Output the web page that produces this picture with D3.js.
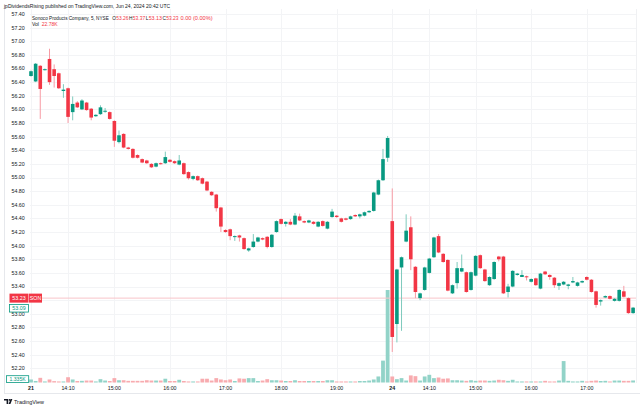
<!DOCTYPE html>
<html><head><meta charset="utf-8">
<script src="https://cdn.jsdelivr.net/npm/d3@7"></script>
<style>body{margin:0;background:#fff}svg{display:block}text{font-family:"Liberation Sans",Arial,sans-serif}</style>
</head><body><svg id="c" width="640" height="409"></svg>
<script>
const opens=[56.49,56.41,56.64,56.58,56.74,56.59,56.53,56.27,56.31,55.96,
56.10,56.00,56.10,56.01,55.90,55.93,55.97,55.96,55.83,55.52,
55.64,55.44,55.42,55.33,55.27,55.25,55.20,55.16,55.21,55.21,
55.26,55.24,55.19,55.21,55.08,54.98,55.02,54.99,54.94,54.79,
54.75,54.56,54.23,54.24,54.13,54.15,54.11,53.93,53.98,54.06,
54.11,54.13,53.98,54.20,54.39,54.32,54.35,54.31,54.43,54.36,
54.34,54.35,54.28,54.36,54.25,54.42,54.44,54.40,54.40,54.39,
54.45,54.43,54.44,54.49,54.51,54.75,54.96,55.29,54.36,52.85,
53.68,54.06,54.27,53.69,53.23,53.35,53.60,53.83,54.14,53.88,
53.79,53.30,53.45,53.62,53.61,53.35,53.56,53.86,53.65,53.42,
53.51,53.84,53.84,53.32,53.40,53.57,53.54,53.55,53.47,53.52,
53.37,53.62,53.57,53.53,53.41,53.43,53.41,53.46,53.41,53.46,
53.54,53.50,53.33,53.18,53.24,53.26,53.19,53.19,53.33,53.23,
53.01];
const highs=[56.57,56.68,56.65,56.60,56.89,56.66,56.54,56.37,56.32,56.19,
56.12,56.15,56.11,56.02,55.93,56.06,56.02,55.97,55.84,55.69,
55.65,55.45,55.43,55.34,55.28,55.26,55.21,55.22,55.22,55.38,
55.27,55.25,55.33,55.22,55.09,55.03,55.03,55.00,54.95,54.80,
54.76,54.57,54.24,54.25,54.15,54.16,54.12,53.97,54.17,54.13,
54.12,54.14,54.17,54.37,54.40,54.36,54.39,54.48,54.47,54.37,
54.38,54.36,54.36,54.37,54.36,54.54,54.45,54.41,54.41,54.44,
54.46,54.47,54.50,54.52,54.79,54.97,55.42,55.61,54.84,53.66,
53.84,54.46,54.43,53.70,53.31,53.69,53.82,54.13,54.17,53.89,
53.80,53.43,53.76,53.87,53.62,53.62,53.86,53.87,53.66,53.55,
53.77,53.85,53.85,53.44,53.64,53.60,53.64,53.56,53.52,53.53,
53.60,53.63,53.58,53.54,53.46,53.48,53.44,53.54,53.47,53.49,
53.55,53.51,53.34,53.21,53.27,53.27,53.23,53.36,53.41,53.24,
53.10];
const lows=[56.48,56.40,55.86,56.57,56.36,56.32,56.30,56.17,55.80,55.84,
56.02,55.99,55.98,55.84,55.89,55.92,55.95,55.85,55.45,55.50,
55.43,55.41,55.28,55.28,55.21,55.20,55.14,55.15,55.19,55.20,
55.22,55.20,55.18,55.04,54.97,54.96,54.95,54.90,54.80,54.73,
54.50,54.20,54.19,54.08,54.07,54.06,53.94,53.91,53.97,54.05,
54.08,53.96,53.97,54.19,54.31,54.28,54.30,54.30,54.36,54.33,
54.33,54.31,54.27,54.28,54.24,54.41,54.41,54.34,54.37,54.38,
54.42,54.40,54.43,54.48,54.50,54.74,54.95,55.23,52.44,52.58,
52.75,54.05,53.64,53.23,53.20,53.34,53.59,53.82,53.89,53.75,
53.33,53.29,53.37,53.61,53.31,53.34,53.55,53.66,53.47,53.41,
53.50,53.77,53.29,53.24,53.39,53.56,53.54,53.49,53.46,53.41,
53.36,53.57,53.50,53.38,53.35,53.42,53.36,53.45,53.40,53.45,
53.49,53.31,53.09,53.12,53.23,53.21,53.18,53.18,53.24,53.00,
53.00];
const closes=[56.56,56.67,56.30,56.59,56.40,56.49,56.31,56.29,55.89,56.08,
56.03,56.13,55.99,55.88,55.92,56.03,55.98,55.86,55.54,55.62,
55.44,55.42,55.29,55.29,55.22,55.21,55.15,55.21,55.20,55.30,
55.23,55.21,55.25,55.05,54.99,55.02,54.96,54.91,54.81,54.74,
54.55,54.28,54.20,54.14,54.14,54.12,53.95,53.96,54.06,54.12,
54.09,53.98,54.16,54.36,54.32,54.35,54.31,54.44,54.37,54.34,
54.37,54.32,54.35,54.29,54.35,54.50,54.42,54.35,54.38,54.43,
54.43,54.46,54.49,54.51,54.78,54.96,55.27,55.58,52.66,53.65,
53.83,54.22,53.80,53.32,53.30,53.68,53.81,54.12,53.90,53.76,
53.34,53.42,53.67,53.67,53.32,53.61,53.85,53.67,53.48,53.54,
53.76,53.80,53.30,53.40,53.63,53.59,53.57,53.54,53.51,53.42,
53.59,53.58,53.54,53.42,53.45,53.47,53.43,53.48,53.46,53.48,
53.50,53.32,53.13,53.20,53.26,53.22,53.22,53.35,53.25,53.01,
53.09];
const volumes=[2.0,1.0,3.1,0.7,2.0,0.9,0.7,0.7,3.5,2.0,
1.0,1.1,1.3,1.3,0.7,2.2,1.3,1.0,2.9,1.5,
1.5,1.1,1.1,1.1,1.1,1.5,1.3,1.3,1.3,2.5,
1.0,1.0,1.8,1.0,0.7,0.7,0.7,2.5,2.5,1.3,
2.9,2.0,1.5,2.0,1.0,2.7,2.5,2.9,2.9,1.0,
1.3,2.2,1.5,1.5,1.3,1.0,1.0,1.5,1.0,1.0,
1.0,1.0,1.0,1.0,1.5,1.5,0.7,0.7,0.7,0.7,
0.7,1.0,1.0,1.3,2.0,4.0,14.5,61.3,4.0,2.2,
2.9,1.3,4.7,4.2,1.3,4.0,5.1,2.9,3.3,2.5,
2.7,1.5,1.5,1.3,1.1,1.5,1.1,1.3,1.3,1.1,
1.3,1.8,1.5,1.1,1.8,0.7,0.7,0.7,0.7,0.7,
0.7,1.1,0.7,0.7,1.3,14.2,1.1,0.7,0.7,1.1,
0.7,1.1,1.3,1.0,1.1,0.7,1.3,1.3,1.1,1.1,
1.335];
const timeTickIdx=[0,8,18,30,42,54,66,78,86,96,108,120];
const timeTickLabels=["21","14:10","15:00","16:00","17:00","18:00","19:00","24","14:10","15:00","16:00","17:00"];
const priceTicks=[52.2,52.4,52.6,52.8,53.0,53.2,53.4,53.6,53.8,54.0,54.2,54.4,54.6,54.8,55.0,55.2,55.4,55.6,55.8,56.0,56.2,56.4,56.6,56.8,57.0,57.2,57.4];
const lastPrice=53.23, lastClose=53.09, lastVolLabel="1.335K";
const legendName="Sonoco Products Company, 5, NYSE";
const legendOHLC=[["O","53.26"],["H","53.37"],["L","53.13"],["C","53.23"]];
const legendChange="0.00 (0.00%)", legendVol="22.78K";

const UP="#089981", DN="#f23645", UPW="#7fcbbd", DNW="#f79aa4", UPV="#92d3c8", DNV="#f8abaf";
const svg=d3.select("#c");
svg.append("rect").attr("width",640).attr("height",409).attr("fill","#fff");
const x=d3.scaleLinear().domain([0,130]).range([31,633.1]);
const y=d3.scaleLinear().domain([52.2,57.4]).range([368.3,14]);
const vMax=d3.max(volumes);
const yv=d3.scaleLinear().domain([0,vMax]).range([382.5,290]);
const plotL=30, plotR=636, plotT=9, plotB=383;

const g=svg.append("g");
g.selectAll(".hg").data(priceTicks).join("line")
 .attr("x1",plotL).attr("x2",plotR).attr("y1",d=>Math.round(y(d))+0.5).attr("y2",d=>Math.round(y(d))+0.5)
 .attr("stroke","#f3f4f6").attr("stroke-width",1);
g.selectAll(".vg").data(timeTickIdx).join("line")
 .attr("x1",d=>Math.round(x(d))+0.5).attr("x2",d=>Math.round(x(d))+0.5).attr("y1",plotT).attr("y2",plotB)
 .attr("stroke","#f3f4f6").attr("stroke-width",1);
svg.append("line").attr("x1",4.5).attr("x2",4.5).attr("y1",plotT).attr("y2",394).attr("stroke","#e6e8ec");
svg.append("line").attr("x1",4).attr("x2",640).attr("y1",393.5).attr("y2",393.5).attr("stroke","#e6e8ec");
svg.append("line").attr("x1",plotR+0.5).attr("x2",plotR+0.5).attr("y1",plotT).attr("y2",plotB).attr("stroke","#f0f1f3");

const idx=d3.range(opens.length);
svg.append("g").selectAll("rect").data(idx).join("rect")
 .attr("x",i=>x(i)-1.9).attr("width",3.8)
 .attr("y",i=>yv(volumes[i])).attr("height",i=>yv(0)-yv(volumes[i]))
 .attr("fill",i=>closes[i]>=opens[i]?UPV:DNV);

svg.append("line").attr("x1",plotL).attr("x2",plotR).attr("y1",y(lastPrice)).attr("y2",y(lastPrice))
 .attr("stroke","#f8c4c9").attr("stroke-width",1);

svg.append("g").selectAll("line").data(idx).join("line")
 .attr("x1",i=>x(i)).attr("x2",i=>x(i)).attr("y1",i=>y(highs[i])).attr("y2",i=>y(lows[i]))
 .attr("stroke",i=>closes[i]>=opens[i]?UPW:DNW).attr("stroke-width",1);
svg.append("g").selectAll("rect").data(idx).join("rect")
 .attr("x",i=>x(i)-1.8).attr("width",3.6)
 .attr("y",i=>y(Math.max(opens[i],closes[i])))
 .attr("height",i=>Math.max(1,Math.abs(y(opens[i])-y(closes[i]))))
 .attr("fill",i=>closes[i]>=opens[i]?UP:DN);

const visTicks=priceTicks.filter(d=>Math.abs(y(d)-y(lastPrice))>5.5);
const ax=svg.append("g").attr("font-size",5.3).attr("fill","#131722");
ax.selectAll("text").data(visTicks).join("text")
 .attr("x",11.5).attr("y",d=>y(d)+1.9).text(d=>d.toFixed(2));
svg.append("g").selectAll("text").data(timeTickIdx).join("text")
 .attr("x",d=>x(d)).attr("y",390.3).attr("text-anchor","middle").attr("font-size",5.3)
 .attr("fill","#131722").attr("font-weight",(d,i)=>(timeTickLabels[i]==="21"||timeTickLabels[i]==="24")?"bold":"normal")
 .text((d,i)=>timeTickLabels[i]);

const yl=y(lastPrice);
svg.append("rect").attr("x",9.5).attr("y",yl-4.5).attr("width",19).attr("height",9).attr("fill",DN);
svg.append("text").attr("x",19).attr("y",yl+1.9).attr("text-anchor","middle").attr("font-size",5.3).attr("fill","#fff").text(lastPrice.toFixed(2));
svg.append("rect").attr("x",29).attr("y",yl-4.5).attr("width",13).attr("height",9).attr("fill",DN);
svg.append("text").attr("x",35.5).attr("y",yl+1.9).attr("text-anchor","middle").attr("font-size",5.3).attr("fill","#fff").text("SON");
const yc=y(lastClose)+0.6;
svg.append("rect").attr("x",9.5).attr("y",yc-3.8).attr("width",19).attr("height",7.6).attr("fill","#fff").attr("stroke",UP).attr("stroke-width",0.8);
svg.append("text").attr("x",19).attr("y",yc+1.9).attr("text-anchor","middle").attr("font-size",5.3).attr("fill",UP).text(lastClose.toFixed(2));
svg.append("rect").attr("x",6.5).attr("y",375.7).attr("width",22.2).attr("height",6.8).attr("fill","#fff").attr("stroke",UP).attr("stroke-width",0.8);
svg.append("text").attr("x",17.6).attr("y",381).attr("text-anchor","middle").attr("font-size",5.1).attr("fill",UP).text(lastVolLabel);

function fitText(xp,yp,str,width,fill,maxSize){
 const t=svg.append("text").attr("x",xp).attr("y",yp).attr("font-size",10).attr("fill",fill).text(str);
 const w=t.node().getComputedTextLength();
 const fs=Math.min(maxSize,10*width/w);
 t.attr("font-size",fs.toFixed(2));
 return t;
}
fitText(4,8,"jpDividendsRising published on TradingView.com, Jun 24, 2024 20:42 UTC",166,"#131722",6);
fitText(32,19.8,legendName,77,"#131722",5.6);
const ohlcX=[112.3,129.0,145.7,162.4];
legendOHLC.forEach((p,i)=>{
 const lt=svg.append("text").attr("x",ohlcX[i]).attr("y",19.8).attr("font-size",4.8).attr("fill","#131722").text(p[0]);
 const w=lt.node().getComputedTextLength();
 fitText(ohlcX[i]+w+0.3,19.8,p[1],16.2-w-0.3,DN,5.4);
});
fitText(180.5,19.8,legendChange,35,DN,5.6);
svg.append("text").attr("x",32).attr("y",26.3).attr("font-size",5).attr("fill","#131722").text("Vol");
fitText(41.7,26.3,legendVol,16,DN,5.6);

const lg=svg.append("g").attr("transform","translate(4,399)");
lg.append("path").attr("d","M0,0H4.2V5H2.6V1.4H0Z M4.6,5L6.6,0H8.4L6.4,5Z").attr("fill","#131722");
lg.append("circle").attr("cx",5.6).attr("cy",0.9).attr("r",0.9).attr("fill","#131722");
fitText(14,404,"TradingView",30,"#131722",6.5);
</script></body></html>
